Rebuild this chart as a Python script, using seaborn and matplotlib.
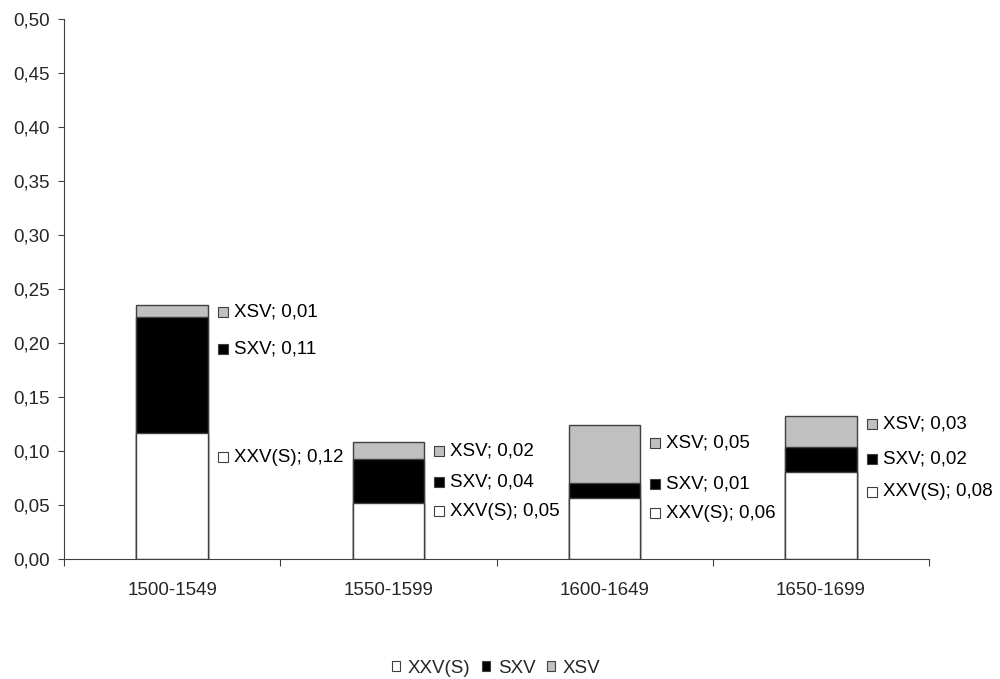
import matplotlib
matplotlib.use("Agg")
import matplotlib.pyplot as plt
import seaborn as sns
import numpy as np
import pandas as pd
from matplotlib.patches import Patch
from matplotlib.ticker import FuncFormatter, FixedLocator

# ---- data ----
categories = ["1500-1549", "1550-1599", "1600-1649", "1650-1699"]
series_names = ["XXV(S)", "SXV", "XSV"]
xxv_s = [0.117, 0.052, 0.056, 0.080]
sxv = [0.107, 0.040, 0.014, 0.024]
xsv = [0.011, 0.016, 0.054, 0.028]
# label vertical placement (data units)
label_y_xxv = [0.094, 0.044, 0.042, 0.062]
label_y_sxv = [0.194, 0.071, 0.069, 0.092]
label_y_xsv = [0.2285, 0.100, 0.1075, 0.1245]

colors = {"XXV(S)": "#FFFFFF", "SXV": "#000000", "XSV": "#C0C0C0"}
edge = "#404040"

sns.set_theme(style="white")
plt.rcParams["font.family"] = ["Liberation Sans", "DejaVu Sans"]
FS = 13.5

fig = plt.figure(figsize=(10, 6.79), dpi=100)
ax = fig.add_axes([0.064, 0.177, 0.865, 0.795])

df = pd.DataFrame({"cat": categories, "a": xxv_s, "b": sxv, "c": xsv})
df["ab"] = df["a"] + df["b"]
df["abc"] = df["ab"] + df["c"]

W = 0.33
sns.barplot(data=df, x="cat", y="abc", color=colors["XSV"], width=W,
            edgecolor=edge, linewidth=1.0, saturation=1, ax=ax)
sns.barplot(data=df, x="cat", y="ab", color=colors["SXV"], width=W,
            edgecolor=edge, linewidth=1.0, saturation=1, ax=ax)
sns.barplot(data=df, x="cat", y="a", color=colors["XXV(S)"], width=W,
            edgecolor=edge, linewidth=1.0, saturation=1, ax=ax)

ax.set_xlim(-0.5, len(categories) - 0.5)
ax.set_ylim(0, 0.5)
ax.set_xlabel("")
ax.set_ylabel("")

# y ticks
ax.set_yticks(np.arange(0, 0.5001, 0.05))
ax.yaxis.set_major_formatter(FuncFormatter(lambda v, p: f"{v:.2f}".replace(".", ",")))
ax.tick_params(axis="y", which="major", direction="out", length=4, width=0.8,
               color=edge, labelsize=FS, pad=6, left=True)

# x ticks: marks at boundaries, labels at centers
ax.xaxis.set_major_locator(FixedLocator(np.arange(-0.5, len(categories), 1.0)))
ax.xaxis.set_major_formatter(FuncFormatter(lambda v, p: ""))
ax.xaxis.set_minor_locator(FixedLocator(np.arange(len(categories))))
ax.set_xticklabels(categories, minor=True)
ax.tick_params(axis="x", which="major", direction="out", length=5, width=0.8,
               color=edge, bottom=True)
ax.tick_params(axis="x", which="minor", length=0, labelsize=FS, pad=17)

for s in ["top", "right"]:
    ax.spines[s].set_visible(False)
for s in ["left", "bottom"]:
    ax.spines[s].set_color(edge)
    ax.spines[s].set_linewidth(0.8)
ax.grid(False)

# data labels
px = 865.0 / len(categories)  # pixels per category unit
mk_off = W / 2 + 15 / px
tx_off = W / 2 + 26 / px
series_vals = [xxv_s, sxv, xsv]
label_ys = [label_y_xxv, label_y_sxv, label_y_xsv]
for name, vals, ys in zip(series_names, series_vals, label_ys):
    for i, (v, yl) in enumerate(zip(vals, ys)):
        ax.plot(i + mk_off, yl, marker="s", markersize=7, color=colors[name],
                markeredgecolor=edge, markeredgewidth=0.8, clip_on=False)
        ax.text(i + tx_off, yl, f"{name}; {v:.2f}".replace(".", ","),
                fontsize=FS, va="center", ha="left", color="black")

# legend
handles = [Patch(facecolor=colors[n], edgecolor=edge, linewidth=0.8, label=n)
           for n in series_names]
fig.legend(handles=handles, loc="center", bbox_to_anchor=(0.496, 0.016),
           ncol=3, frameon=False, fontsize=FS, handlelength=0.45,
           handleheight=0.45, handletextpad=0.4, columnspacing=0.6)

fig.savefig("out.png", dpi=100)
